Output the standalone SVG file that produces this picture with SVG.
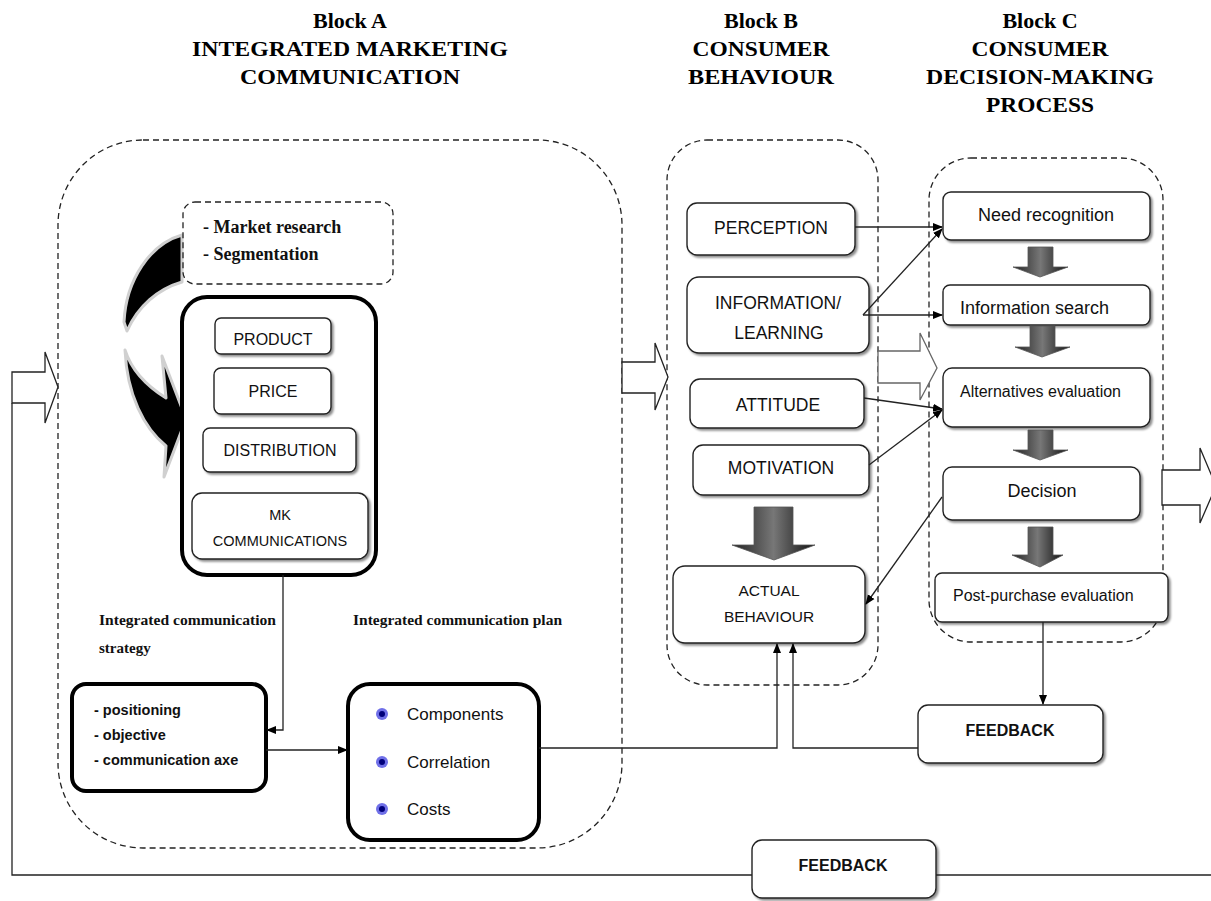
<svg xmlns="http://www.w3.org/2000/svg" width="1211" height="901" viewBox="0 0 1211 901">
<style>
.title{font-family:"Liberation Serif","Times New Roman",serif;font-weight:bold;font-size:22px;fill:#000;text-anchor:middle}
.dash{fill:none;stroke:#222;stroke-width:1.3;stroke-dasharray:6 4}
.box{fill:#fff;stroke:#222;stroke-width:1.4}
.thick{fill:#fff;stroke:#000;stroke-width:4}
.sans{font-family:"Liberation Sans",Arial,sans-serif;fill:#111;text-anchor:middle}
.lbl{font-family:"Liberation Serif","Times New Roman",serif;font-weight:bold;font-size:15px;fill:#111}
.bold{font-family:"Liberation Sans",Arial,sans-serif;font-weight:bold;font-size:14.5px;fill:#111}
.line{fill:none;stroke:#222;stroke-width:1.3}
.blk{fill:#fff;stroke:#222;stroke-width:1.3}
.dn{fill:url(#g);stroke:#555;stroke-width:0.8}
.curve{fill:#000;stroke:#d0d0d0;stroke-width:3;stroke-linejoin:round}
</style>
<defs>
<marker id="ah" markerWidth="10" markerHeight="10" refX="9" refY="5" orient="auto" markerUnits="userSpaceOnUse">
<path d="M0,1 L10,5 L0,9 z" fill="#000"/>
</marker>
<filter id="sh" x="-10%" y="-10%" width="130%" height="130%">
<feDropShadow dx="2" dy="2" stdDeviation="1" flood-color="#000" flood-opacity="0.45"/>
</filter>
<linearGradient id="g" x1="0" y1="0" x2="1" y2="0">
<stop offset="0" stop-color="#222"/>
<stop offset="0.5" stop-color="#777"/>
<stop offset="1" stop-color="#111"/>
</linearGradient>
</defs>

<g id="titles">
<text class="title" x="350" y="28">Block A</text>
<text class="title" x="350" y="56" textLength="316" lengthAdjust="spacingAndGlyphs">INTEGRATED MARKETING</text>
<text class="title" x="350" y="84" textLength="220" lengthAdjust="spacingAndGlyphs">COMMUNICATION</text>
<text class="title" x="761" y="28">Block B</text>
<text class="title" x="761" y="56" textLength="137" lengthAdjust="spacingAndGlyphs">CONSUMER</text>
<text class="title" x="761" y="84" textLength="146" lengthAdjust="spacingAndGlyphs">BEHAVIOUR</text>
<text class="title" x="1040" y="28">Block C</text>
<text class="title" x="1040" y="56" textLength="137" lengthAdjust="spacingAndGlyphs">CONSUMER</text>
<text class="title" x="1040" y="84" textLength="228" lengthAdjust="spacingAndGlyphs">DECISION-MAKING</text>
<text class="title" x="1040" y="112" textLength="108" lengthAdjust="spacingAndGlyphs">PROCESS</text>
</g>

<g id="containers">
<rect class="dash" x="58" y="140" width="564" height="708" rx="85"/>
<rect class="dash" x="667" y="140" width="211" height="545" rx="40"/>
<rect class="dash" x="929" y="158" width="234" height="484" rx="42"/>
</g>

<g id="block-arrows">
<path class="blk" d="M12,372 H45 V352 L58,387 L45,423 V403 H12 Z"/>
<path class="blk" d="M622,362 H655 V343 L668,377 L655,410 V393 H622 Z"/>
<path class="blk" style="stroke:#666" d="M878,351 H920 V333 L937,368 L920,400 V383 H878 Z"/>
<path class="blk" d="M1162,470 H1200 V448 L1216,486 L1200,523 V505 H1162 Z"/>
</g>

<g id="curved-arrow">
<path class="curve" d="M182,235 C150,244 126,280 124,322 L127,331 C138,306 158,289 182,282 Z"/>
<path class="curve" d="M125,350 C127,395 144,428 166,446 L164,477 L186,419 L162,356 L166,398 C150,388 132,372 125,350 Z"/>
</g>

<g id="market-research">
<rect class="dash" x="183" y="202" width="210" height="82" rx="12"/>
<text class="lbl" x="203" y="233" style="font-size:18px">- Market research</text>
<text class="lbl" x="203" y="260" style="font-size:18px">- Segmentation</text>
</g>

<g id="marketing-mix">
<rect class="thick" x="182" y="297" width="194" height="278" rx="25"/>
<rect class="box" x="215" y="318" width="116" height="36" rx="6" filter="url(#sh)"/>
<text class="sans" x="273" y="345" font-size="16">PRODUCT</text>
<rect class="box" x="214" y="368" width="117" height="46" rx="7" filter="url(#sh)"/>
<text class="sans" x="273" y="397" font-size="16">PRICE</text>
<rect class="box" x="203" y="428" width="153" height="44" rx="7" filter="url(#sh)"/>
<text class="sans" x="280" y="456" font-size="16">DISTRIBUTION</text>
<rect class="box" x="192" y="493" width="176" height="66" rx="10" filter="url(#sh)"/>
<text class="sans" x="280" y="520" font-size="14.5">MK</text>
<text class="sans" x="280" y="546" font-size="14.5">COMMUNICATIONS</text>
</g>

<g id="labels">
<text class="lbl" x="99" y="625" textLength="177" lengthAdjust="spacingAndGlyphs">Integrated communication</text>
<text class="lbl" x="99" y="653">strategy</text>
<text class="lbl" x="353" y="625" textLength="209" lengthAdjust="spacingAndGlyphs">Integrated communication plan</text>
</g>

<g id="strategy">
<rect class="thick" x="72" y="684" width="194" height="107" rx="14"/>
<text class="bold" x="94" y="715">- positioning</text>
<text class="bold" x="94" y="740">- objective</text>
<text class="bold" x="94" y="765">- communication axe</text>
</g>

<g id="plan">
<rect class="thick" x="348" y="684" width="191" height="156" rx="22"/>
<circle cx="382" cy="714" r="6" fill="#6f6fe8"/><circle cx="382" cy="714" r="3" fill="#00007a"/>
<circle cx="382" cy="762" r="6" fill="#6f6fe8"/><circle cx="382" cy="762" r="3" fill="#00007a"/>
<circle cx="382" cy="809" r="6" fill="#6f6fe8"/><circle cx="382" cy="809" r="3" fill="#00007a"/>
<text class="sans" x="407" y="720" font-size="17" style="text-anchor:start">Components</text>
<text class="sans" x="407" y="768" font-size="17" style="text-anchor:start">Correlation</text>
<text class="sans" x="407" y="815" font-size="17" style="text-anchor:start">Costs</text>
</g>

<g id="block-b">
<rect class="box" x="687" y="203" width="168" height="52" rx="10" filter="url(#sh)"/>
<text class="sans" x="771" y="234" font-size="17.5">PERCEPTION</text>
<rect class="box" x="687" y="277" width="182" height="76" rx="12" filter="url(#sh)"/>
<text class="sans" x="778" y="309" font-size="17.5">INFORMATION/</text>
<text class="sans" x="779" y="339" font-size="17.5">LEARNING</text>
<rect class="box" x="690" y="379" width="174" height="49" rx="10" filter="url(#sh)"/>
<text class="sans" x="778" y="411" font-size="17.5">ATTITUDE</text>
<rect class="box" x="693" y="445" width="176" height="50" rx="10" filter="url(#sh)"/>
<text class="sans" x="781" y="474" font-size="17.5">MOTIVATION</text>
<path class="dn" d="M754,507 H793 V545 H815 L774,560 L732,545 H754 Z"/>
<rect class="box" x="673" y="566" width="192" height="77" rx="12" filter="url(#sh)"/>
<text class="sans" x="769" y="596" font-size="15.5">ACTUAL</text>
<text class="sans" x="769" y="622" font-size="15.5">BEHAVIOUR</text>
</g>

<g id="block-c">
<rect class="box" x="943" y="192" width="207" height="48" rx="8" filter="url(#sh)"/>
<text class="sans" x="1046" y="221" font-size="18">Need recognition</text>
<path class="dn" d="M1028,247 H1053 V267 H1068 L1040,277 L1013,267 H1028 Z"/>
<rect class="box" x="943" y="285" width="207" height="40" rx="7" filter="url(#sh)"/>
<text class="sans" x="960" y="314" font-size="18" style="text-anchor:start">Information search</text>
<path class="dn" d="M1030,326 H1055 V347 H1070 L1042,357 L1015,347 H1030 Z"/>
<rect class="box" x="943" y="368" width="207" height="59" rx="9" filter="url(#sh)"/>
<text class="sans" x="960" y="397" font-size="16" style="text-anchor:start">Alternatives evaluation</text>
<path class="dn" d="M1028,430 H1053 V450 H1068 L1040,460 L1013,450 H1028 Z"/>
<rect class="box" x="943" y="467" width="197" height="53" rx="9" filter="url(#sh)"/>
<text class="sans" x="1042" y="497" font-size="18">Decision</text>
<path class="dn" d="M1028,527 H1053 V555 H1063 L1040,567 L1012,555 H1028 Z"/>
<rect class="box" x="935" y="573" width="233" height="49" rx="7" filter="url(#sh)"/>
<text class="sans" x="953" y="601" font-size="16" style="text-anchor:start">Post-purchase evaluation</text>
</g>

<g id="feedback-upper">
<rect class="box" x="918" y="705" width="185" height="58" rx="10" filter="url(#sh)"/>
<text class="sans" x="1010" y="736" font-size="16" font-weight="bold">FEEDBACK</text>
</g>
<g id="feedback-lower">
<rect class="box" x="752" y="840" width="184" height="58" rx="10" filter="url(#sh)"/>
<text class="sans" x="843" y="871" font-size="16" font-weight="bold">FEEDBACK</text>
</g>

<g id="connectors">
<path class="line" d="M283,575 V730 H267" marker-end="url(#ah)"/>
<path class="line" d="M266,750 H347" marker-end="url(#ah)"/>
<path class="line" d="M539,748 H777 V644" marker-end="url(#ah)"/>
<path class="line" d="M918,748 H793 V644" marker-end="url(#ah)"/>
<path class="line" d="M855,227 H942" marker-end="url(#ah)"/>
<path class="line" d="M863,315 L942,229" marker-end="url(#ah)"/>
<path class="line" d="M863,315 H942" marker-end="url(#ah)"/>
<path class="line" d="M864,398 L942,409" marker-end="url(#ah)"/>
<path class="line" d="M869,465 L942,410" marker-end="url(#ah)"/>
<path class="line" d="M942,497 L866,604" marker-end="url(#ah)"/>
<path class="line" d="M1043,622 V704" marker-end="url(#ah)"/>
<path class="line" d="M12,403 V875 H752"/>
<path class="line" d="M936,875 H1211"/>
</g>
</svg>
